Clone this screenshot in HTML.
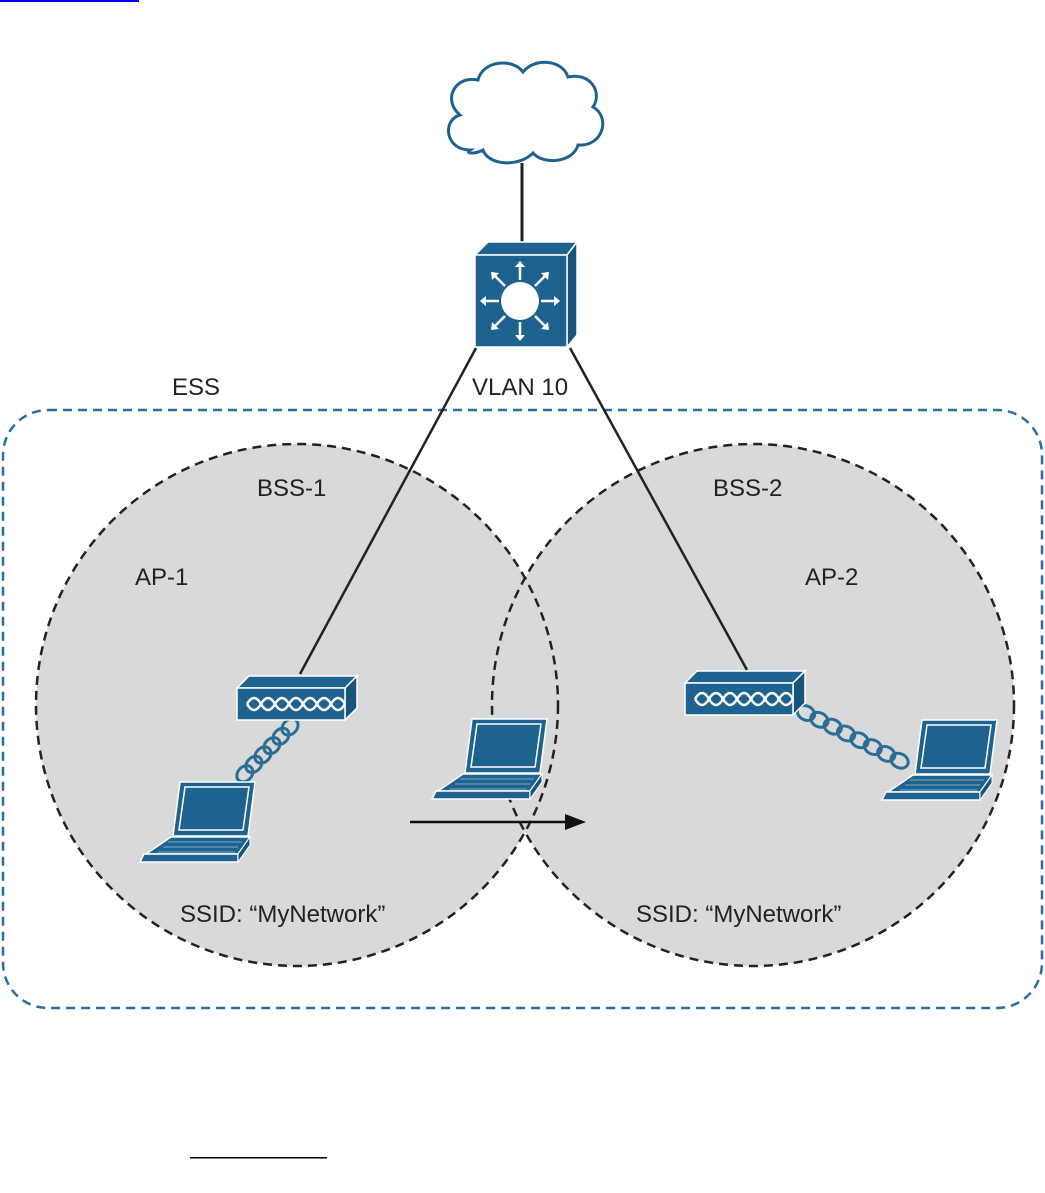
<!DOCTYPE html>
<html><head><meta charset="utf-8"><style>
body{margin:0;background:#fff;width:1045px;height:1188px;overflow:hidden}
text{font-family:"Liberation Sans",sans-serif;font-size:24px;fill:#222}
</style></head><body>
<svg width="1045" height="1188" viewBox="0 0 1045 1188" xmlns="http://www.w3.org/2000/svg">
<defs>
<g id="lap">
<path d="M42,0 L117,0 L110,54 L35,54 Z" fill="#1e6390" stroke="#fff" stroke-width="1.5"/>
<path d="M47,5 L111,5 L105,48 L41,48 Z" fill="none" stroke="#fff" stroke-width="1.5"/>
<path d="M33,55 L112,55 L100,72 L8,72 Z" fill="#1e6390" stroke="#fff" stroke-width="1.5"/>
<path d="M30,60 L104,60 M25,65 L100,65 M20,70 L97,70" stroke="#7fa8c4" stroke-width="1"/>
<path d="M6,72 L100,72 L100,80 L2,80 Z" fill="#1e6390" stroke="#fff" stroke-width="1.5"/>
<path d="M100,72 L112,55 L112,63 L100,80 Z" fill="#17557d" stroke="#fff" stroke-width="1"/>
</g>
<g id="ap">
<path d="M0,12 L12,0 L120,0 L108,12 Z" fill="#1e6390" stroke="#fff" stroke-width="1.5"/>
<path d="M108,12 L120,0 L120,32 L108,44 Z" fill="#17557d" stroke="#fff" stroke-width="1.5"/>
<rect x="0" y="12" width="108" height="32" fill="#1e6390" stroke="#fff" stroke-width="1.5"/>
<path d="M10,28 q7,-12 14,0 q7,12 14,0 q7,-12 14,0 q7,12 14,0 q7,-12 14,0 q7,12 14,0 q7,-12 14,0 M10,28 q7,12 14,0 q7,-12 14,0 q7,12 14,0 q7,-12 14,0 q7,12 14,0 q7,-12 14,0 q7,12 14,0" fill="none" stroke="#fff" stroke-width="2.5"/>
</g>
<g id="coil">
<ellipse cx="0" cy="0" rx="9" ry="7" fill="none" stroke="#2a6e98" stroke-width="3"/>
</g>
</defs>
<rect x="0" y="0" width="139" height="2" fill="#0000ee"/>
<rect x="190" y="1157" width="137" height="1.5" fill="#000"/>
<rect x="3" y="410" width="1039" height="598" rx="45" fill="none" stroke="#2b6f9e" stroke-width="2.5" stroke-dasharray="9,6"/>
<circle cx="297" cy="705" r="261" fill="#d9d9d9"/>
<circle cx="753" cy="705" r="261" fill="#d9d9d9"/>
<circle cx="297" cy="705" r="261" fill="none" stroke="#222" stroke-width="2.5" stroke-dasharray="9,6"/>
<circle cx="753" cy="705" r="261" fill="none" stroke="#222" stroke-width="2.5" stroke-dasharray="9,6"/>
<!-- cloud -->
<path d="M470,150 c-25,0 -28,-30 -10,-35 c-18,-15 -5,-40 18,-35 c5,-20 35,-22 45,-8 c12,-15 40,-12 45,5 c22,-5 35,15 25,30 c18,10 10,40 -15,38 c-5,18 -35,20 -45,8 c-15,15 -45,12 -50,-3 c-10,5 -18,3 -13,0 Z" fill="#fff" stroke="#1e6390" stroke-width="3"/>
<line x1="522" y1="163" x2="522" y2="242" stroke="#222" stroke-width="3"/>
<line x1="476" y1="348" x2="300" y2="674" stroke="#222" stroke-width="2.5"/>
<line x1="570" y1="348" x2="747" y2="670" stroke="#222" stroke-width="2.5"/>
<!-- switch -->
<path d="M475,255 L488,242 L577,242 L567,255 Z" fill="#1e6390" stroke="#fff" stroke-width="1.5"/>
<path d="M567,255 L577,242 L577,335 L567,347 Z" fill="#17557d" stroke="#fff" stroke-width="1.5"/>
<rect x="475" y="255" width="92" height="92" fill="#1e6390" stroke="#fff" stroke-width="1.5"/>
<circle cx="520" cy="301" r="19" fill="#fff"/>
<g stroke="#fff" stroke-width="2.5" fill="#fff">
<path d="M520,280 V265 M520,322 V337 M499,301 H484 M541,301 H556 M505,286 L494,275 M535,286 L546,275 M505,316 L494,327 M535,316 L546,327"/>
</g>
<g fill="#fff">
<path d="M520,261 l-5,6 h10z M520,341 l-5,-6 h10z M480,301 l6,-5 v10z M560,301 l-6,-5 v10z M491,272 l1,8 7,-7z M549,272 l-1,8 -7,-7z M491,330 l1,-8 7,7z M549,330 l-1,-8 -7,7z"/>
</g>
<!-- coils -->
<g transform="translate(290,727) rotate(134)">
<use href="#coil" x="0" y="0"/><use href="#coil" x="13" y="0"/><use href="#coil" x="26" y="0"/><use href="#coil" x="39" y="0"/><use href="#coil" x="52" y="0"/><use href="#coil" x="65" y="0"/>
</g>
<g transform="translate(806,713) rotate(27)">
<use href="#coil" x="0" y="0"/><use href="#coil" x="15" y="0"/><use href="#coil" x="30" y="0"/><use href="#coil" x="45" y="0"/><use href="#coil" x="60" y="0"/><use href="#coil" x="75" y="0"/><use href="#coil" x="90" y="0"/><use href="#coil" x="105" y="0"/>
</g>
<!-- APs -->
<use href="#ap" x="237" y="676"/>
<use href="#ap" x="685" y="671"/>
<!-- laptops -->
<use href="#lap" x="138" y="782"/>
<use href="#lap" x="430" y="719"/>
<use href="#lap" x="880" y="720"/>
<!-- arrow -->
<line x1="410" y1="822" x2="570" y2="822" stroke="#111" stroke-width="2.5"/>
<path d="M586,822 L565,814 L565,830 Z" fill="#111"/>
<text x="172" y="395">ESS</text>
<text x="472" y="395">VLAN 10</text>
<text x="257" y="496">BSS-1</text>
<text x="713" y="496">BSS-2</text>
<text x="135" y="585">AP-1</text>
<text x="805" y="585">AP-2</text>
<text x="180" y="922">SSID: “MyNetwork”</text>
<text x="636" y="922">SSID: “MyNetwork”</text>
</svg>
</body></html>
